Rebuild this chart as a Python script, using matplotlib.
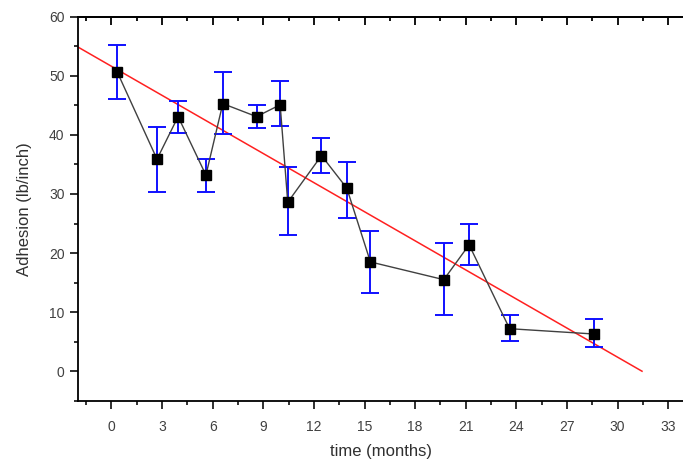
import numpy as np
import matplotlib
matplotlib.use("Agg")
import matplotlib.pyplot as plt
from matplotlib.ticker import MultipleLocator

plt.rcParams['font.family'] = ['Liberation Sans', 'DejaVu Sans']

# data
time = [0.35, 2.7, 3.95, 5.6, 6.6, 8.6, 10.0, 10.45, 12.45, 13.95, 15.35, 19.7, 21.2, 23.6, 28.6]
adhesion = [50.6, 35.9, 43.1, 33.2, 45.3, 43.1, 45.1, 28.6, 36.5, 31.0, 18.5, 15.5, 21.4, 7.2, 6.3]
err_hi = [55.2, 41.4, 45.7, 35.9, 50.7, 45.0, 49.1, 34.5, 39.5, 35.5, 23.8, 21.7, 24.9, 9.5, 8.85]
err_lo = [46.1, 30.3, 40.4, 30.3, 40.1, 41.1, 41.5, 23.0, 33.6, 26.0, 13.2, 9.6, 17.9, 5.2, 4.05]

# linear fit endpoints
fit_x = [-2.0, 31.45]
fit_y = [54.9, 0.0]

adhesion = np.array(adhesion)
yerr = [adhesion - np.array(err_lo), np.array(err_hi) - adhesion]

fig = plt.figure(figsize=(6.83, 4.66), dpi=100)
# axes runs a little past the right edge, like the original crop
ax = fig.add_axes([0.1138, 0.140, (685 - 77.7) / 683, 0.824])

ax.plot(fit_x, fit_y, color='#ff2020', lw=1.1, zorder=2)
ax.errorbar(time, adhesion, yerr=yerr, fmt='none', ecolor='#1010ff',
            elinewidth=1.4, capsize=6.5, capthick=1.4, zorder=3)
ax.plot(time, adhesion, color='#404040', lw=1.0, marker='s', ms=7.2,
        mfc='black', mec='black', zorder=4)

ax.set_xlim(-2, 34)
ax.set_ylim(-5, 60)
ax.xaxis.set_major_locator(MultipleLocator(3))
ax.xaxis.set_minor_locator(MultipleLocator(1.5))
ax.yaxis.set_major_locator(MultipleLocator(10))
ax.yaxis.set_minor_locator(MultipleLocator(5))

ax.spines['right'].set_visible(False)
for s in ['left', 'bottom', 'top']:
    ax.spines[s].set_linewidth(1.3)

ax.tick_params(which='both', direction='out', width=1.3, colors='#202020',
               labelcolor='#404040', labelsize=10, top=False, right=False)
ax.tick_params(which='major', length=6)
ax.tick_params(which='minor', length=3)
ax.xaxis.set_tick_params(pad=8)

# inward ticks along the top spine
sec = ax.secondary_xaxis('top')
sec.xaxis.set_major_locator(MultipleLocator(3))
sec.xaxis.set_minor_locator(MultipleLocator(1.5))
sec.tick_params(which='both', direction='in', width=1.3, labeltop=False)
sec.tick_params(which='major', length=6)
sec.tick_params(which='minor', length=3)
sec.spines['top'].set_linewidth(1.3)

ax.set_xlabel('time (months)', fontsize=12, color='#303030', labelpad=7)
ax.set_ylabel('Adhesion (lb/inch)', fontsize=12, color='#303030', labelpad=12)

fig.savefig('out.png', dpi=100)
